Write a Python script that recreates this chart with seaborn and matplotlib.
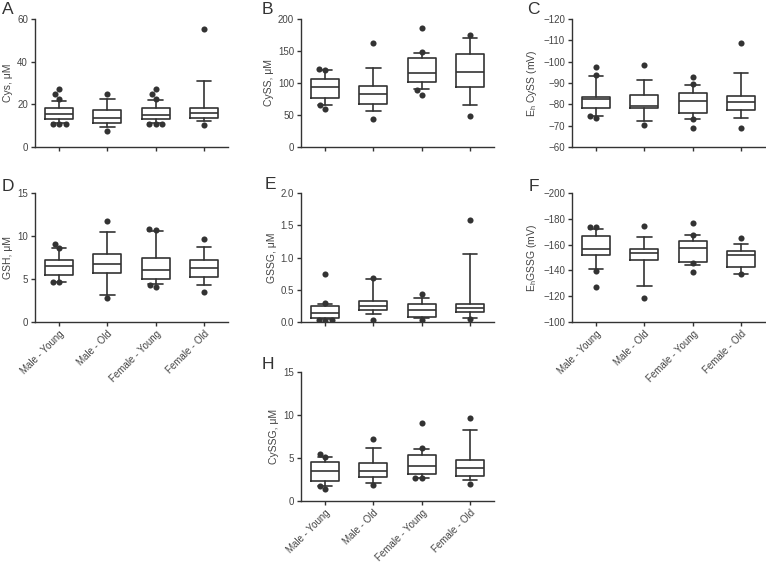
import numpy as np
import pandas as pd
import matplotlib
matplotlib.use('Agg')
import matplotlib.pyplot as plt
from matplotlib.ticker import FormatStrFormatter
import seaborn as sns

# ── Data ───────────────────────────────────────────────────
GROUPS = ['Male - Young', 'Male - Old', 'Female - Young', 'Female - Old']

# each row: [whisker low (10th pct), Q1, median, Q3, whisker high (90th pct)]
CYS_BOX = [[11.3, 13.3, 15.7, 18.3, 21.6],
           [9.2, 11.3, 13.6, 17.2, 22.7],
           [11.3, 13.0, 15.2, 18.5, 21.8],
           [12.2, 13.8, 16.0, 18.3, 31.0]]
CYS_OUT = [[27.3, 24.9, 22.6, 11.0, 11.0, 11.0],
           [24.8, 7.4],
           [27.3, 24.9, 22.6, 11.0, 11.0, 11.0],
           [55.3, 10.5]]

CYSS_BOX = [[66.0, 77.0, 93.0, 107.0, 120.6],
            [57.0, 67.5, 83.5, 95.4, 124.0],
            [90.0, 101.0, 115.5, 139.0, 147.4],
            [66.0, 93.3, 116.5, 146.0, 170.0]]
CYSS_OUT = [[122.0, 120.0, 66.0, 60.0],
            [162.0, 43.3],
            [185.6, 148.5, 88.7, 82.0],
            [175.0, 48.5]]

EHCYSS_BOX = [[-74.5, -78.4, -82.3, -83.6, -93.3],
              [-72.2, -78.1, -79.4, -84.4, -91.4],
              [-73.3, -75.8, -81.4, -85.5, -89.2],
              [-73.8, -77.5, -81.3, -83.9, -94.7]]
EHCYSS_OUT = [[-97.5, -93.8, -73.4, -74.5],
              [-98.6, -70.2],
              [-92.8, -89.5, -73.3, -68.8],
              [-108.8, -68.8]]

GSH_BOX = [[4.65, 5.47, 6.47, 7.2, 8.6],
           [3.1, 5.7, 6.7, 7.9, 10.5],
           [4.46, 5.04, 6.0, 7.44, 10.6],
           [4.3, 5.19, 6.28, 7.2, 8.68]]
GSH_OUT = [[9.1, 8.6, 4.6, 4.6],
           [11.8, 2.83],
           [10.85, 10.66, 4.03, 4.34],
           [9.69, 3.49]]

GSSG_BOX = [[0.04, 0.068, 0.146, 0.245, 0.286],
            [0.12, 0.18, 0.245, 0.33, 0.66],
            [0.057, 0.078, 0.19, 0.286, 0.37],
            [0.068, 0.15, 0.22, 0.276, 1.057]]
GSSG_OUT = [[0.75, 0.29, 0.03, 0.02, 0.03],
            [0.68, 0.026],
            [0.43, 0.036],
            [1.58, 0.047]]

EHGSSG_BOX = [[-140.8, -151.9, -156.3, -166.4, -172.4],
              [-127.6, -148.0, -153.7, -156.3, -165.6],
              [-144.4, -146.8, -157.1, -163.0, -167.7],
              [-137.0, -142.9, -151.9, -155.0, -160.2]]
EHGSSG_OUT = [[-173.4, -173.4, -139.8, -127.4],
              [-174.4, -118.6],
              [-176.7, -167.7, -145.5, -138.8],
              [-164.9, -137.0]]

CYSSG_BOX = [[1.78, 2.28, 3.52, 4.56, 5.06],
             [2.13, 2.74, 3.52, 4.37, 6.22],
             [2.7, 3.17, 4.1, 5.37, 6.07],
             [2.4, 2.94, 3.83, 4.79, 8.2]]
CYSSG_OUT = [[5.49, 5.06, 1.78, 1.35],
             [7.19, 1.82],
             [9.12, 6.15, 2.7, 2.7],
             [9.7, 2.0]]

# ── Style ─────────────────────────────────────────────────
sns.set_style('ticks')
plt.rcParams['font.family'] = ['Liberation Sans', 'DejaVu Sans']
plt.rcParams['mathtext.default'] = 'regular'

LINE = '#333333'
TXT = '#444444'
W, H = 766, 566


def axes_at(left, top, width, height):
    return fig.add_axes([left / W, 1 - (top + height) / H, width / W, height / H])


def draw_panel(ax, box, out, ylim, yticks, ylabel, fmt=None, xlabels=False):
    stats = [dict(whislo=b[0], q1=b[1], med=b[2], q3=b[3], whishi=b[4], fliers=[])
             for b in box]
    lp = dict(color=LINE, linewidth=1.2)
    ax.bxp(stats, positions=range(len(GROUPS)), widths=0.58, capwidths=0.3,
           showfliers=False, boxprops=lp, whiskerprops=lp, capprops=lp,
           medianprops=lp, manage_ticks=False)

    # points outside the 10-90 percentile whiskers
    df = pd.DataFrame({
        'group': [g for g, vals in zip(GROUPS, out) for _ in vals],
        'value': [v for vals in out for v in vals],
    })
    sns.swarmplot(data=df, x='group', y='value', order=GROUPS, color=LINE,
                  size=4.4, linewidth=0, ax=ax)

    ax.set_xlim(-0.5, len(GROUPS) - 0.5)
    ax.set_ylim(*ylim)
    ax.set_yticks(yticks)
    if fmt:
        ax.yaxis.set_major_formatter(FormatStrFormatter(fmt))
    ax.set_xticks(range(len(GROUPS)))
    if xlabels:
        ax.set_xticklabels(GROUPS, rotation=45, ha='right', rotation_mode='anchor')
    else:
        ax.set_xticklabels([])
    ax.set_xlabel('')
    ax.set_ylabel(ylabel, fontsize=7.5, color=TXT, labelpad=3)
    sns.despine(ax=ax)
    for s in ['left', 'bottom']:
        ax.spines[s].set_color(LINE)
        ax.spines[s].set_linewidth(1.0)
    ax.tick_params(direction='out', length=3, width=1, color=LINE,
                   labelcolor=TXT, labelsize=7, pad=2)


fig = plt.figure(figsize=(W / 100, H / 100), dpi=100)

panels = [
    ('A', 35, 19, 128, CYS_BOX, CYS_OUT, (0, 60), [0, 20, 40, 60], 'Cys, μM', None, False),
    ('B', 301, 19, 128, CYSS_BOX, CYSS_OUT, (0, 200), [0, 50, 100, 150, 200], 'CySS, μM', None, False),
    ('C', 572, 19, 128, EHCYSS_BOX, EHCYSS_OUT, (-60, -120), list(range(-60, -121, -10)),
     'E$_h$ CySS (mV)', None, False),
    ('D', 35, 193, 129, GSH_BOX, GSH_OUT, (0, 15), [0, 5, 10, 15], 'GSH, μM', None, True),
    ('E', 301, 193, 129, GSSG_BOX, GSSG_OUT, (0, 2.0), [0, 0.5, 1.0, 1.5, 2.0], 'GSSG, μM', '%.1f', False),
    ('F', 572, 193, 129, EHGSSG_BOX, EHGSSG_OUT, (-100, -200), list(range(-100, -201, -20)),
     'E$_h$GSSG (mV)', None, True),
    ('H', 301, 372, 129, CYSSG_BOX, CYSSG_OUT, (0, 15), [0, 5, 10, 15], 'CySSG, μM', None, True),
]

letter_pos = {'A': (2, 2), 'B': (262, 2), 'C': (527, 2),
              'D': (2, 179), 'E': (265, 177), 'F': (529, 179), 'H': (262, 357)}

for letter, left, top, height, box, out, ylim, yticks, ylabel, fmt, xl in panels:
    ax = axes_at(left, top, 193, height)
    draw_panel(ax, box, out, ylim, yticks, ylabel, fmt, xl)
    lx, ly = letter_pos[letter]
    fig.text(lx / W, 1 - ly / H, letter, fontsize=12.5, color='#333333', va='top', ha='left')

fig.savefig('out.png', dpi=100)
